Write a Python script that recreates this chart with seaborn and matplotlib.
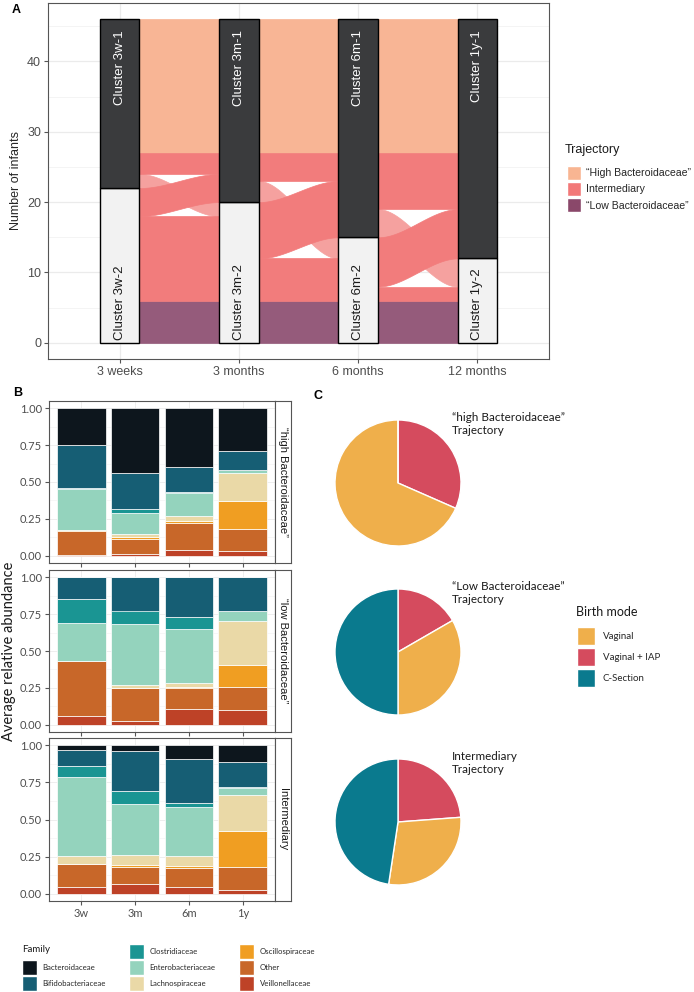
import numpy as np
import pandas as pd
import seaborn as sns
import matplotlib.pyplot as plt
from matplotlib.patches import Patch

W, H = 694, 992

# ---------------- panel A: alluvial data ----------------
time_points = ["3 weeks", "3 months", "6 months", "12 months"]
cluster_top_labels = ["Cluster 3w-1", "Cluster 3m-1", "Cluster 6m-1", "Cluster 1y-1"]
cluster_bottom_labels = ["Cluster 3w-2", "Cluster 3m-2", "Cluster 6m-2", "Cluster 1y-2"]
cluster1_n = [24, 26, 31, 34]   # infants in cluster "-1" at each time point
n_infants = 46
trajectories = ["“High Bacteroidaceae”", "Intermediary", "“Low Bacteroidaceae”"]
trajectory_n = [19, 21, 6]
# intermediary infants between consecutive time points
inter_1to1 = [3, 4, 8]
inter_1to2 = [2, 3, 4]
inter_2to1 = [4, 8, 7]
inter_2to2 = [12, 6, 2]

traj_legend_colors = ["#f8b592", "#f27878", "#8a486a"]
traj_plot_colors = ["#f8b595", "#f27c7c", "#955b7b"]
inter_light = "#f5a19f"

# ---------------- panel B: relative abundance ----------------
ages = ["3w", "3m", "6m", "1y"]
families = ["Bacteroidaceae", "Bifidobacteriaceae", "Clostridiaceae", "Enterobacteriaceae",
            "Lachnospiraceae", "Oscillospiraceae", "Other", "Veillonellaceae"]
family_colors = ["#0d161d", "#165e74", "#1a9593", "#94d3bd",
                 "#ead9a7", "#f09e22", "#c86729", "#be4227"]
strip_labels = ["“high Bacteroidaceae”", "“low Bacteroidaceae”", "Intermediary"]
# rows follow `families`, columns follow `ages`
abund_high = [[0.250, 0.438, 0.398, 0.288],
              [0.290, 0.247, 0.169, 0.128],
              [0.005, 0.025, 0.006, 0.000],
              [0.280, 0.140, 0.157, 0.024],
              [0.000, 0.026, 0.034, 0.187],
              [0.007, 0.012, 0.016, 0.195],
              [0.163, 0.104, 0.180, 0.149],
              [0.005, 0.008, 0.040, 0.029]]
abund_low = [[0.000, 0.000, 0.000, 0.000],
             [0.146, 0.225, 0.270, 0.229],
             [0.162, 0.094, 0.078, 0.000],
             [0.258, 0.411, 0.372, 0.068],
             [0.000, 0.023, 0.025, 0.300],
             [0.000, 0.000, 0.008, 0.145],
             [0.378, 0.225, 0.139, 0.161],
             [0.056, 0.022, 0.108, 0.097]]
abund_inter = [[0.034, 0.040, 0.090, 0.110],
               [0.103, 0.266, 0.299, 0.173],
               [0.079, 0.087, 0.029, 0.005],
               [0.532, 0.346, 0.330, 0.045],
               [0.052, 0.065, 0.065, 0.242],
               [0.000, 0.018, 0.014, 0.245],
               [0.157, 0.111, 0.130, 0.155],
               [0.043, 0.067, 0.043, 0.025]]

# ---------------- panel C: birth mode ----------------
birth_modes = ["Vaginal", "Vaginal + IAP", "C-Section"]
birth_colors = ["#efaf4b", "#d54b5e", "#0a7a8e"]
pie_titles = ["“high Bacteroidaceae”\nTrajectory", "“Low Bacteroidaceae”\nTrajectory",
              "Intermediary\nTrajectory"]
birth_high = [13, 6, 0]
birth_low = [2, 1, 3]
birth_inter = [6, 5, 10]

sns.set_style("white")
plt.rcParams["font.family"] = ["Liberation Sans", "DejaVu Sans"]
MYR = ["Lato", "DejaVu Sans"]
FRAME = "#555555"
TXT = "#4d4d4d"

fig = plt.figure(figsize=(W / 100, H / 100), dpi=100)


def px_axes(l, t, r, b):
    return fig.add_axes([l / W, 1 - b / H, (r - l) / W, (b - t) / H])


def style_frame(ax):
    for s in ax.spines.values():
        s.set_visible(True)
        s.set_color(FRAME)
        s.set_linewidth(0.8)


# ================= A =================
axA = px_axes(48, 3, 549, 359)
xs = np.arange(len(time_points))
half = 1 / 6
low_n = trajectory_n[2]
inter_top = low_n + trajectory_n[1]


def ribbon(ax, x0, x1, lo0, hi0, lo1, hi1, color):
    t = np.linspace(0, 1, 80)
    s = 3 * t ** 2 - 2 * t ** 3
    xx = x0 + (x1 - x0) * t
    ax.fill_between(xx, lo0 + (lo1 - lo0) * s, hi0 + (hi1 - hi0) * s,
                    color=color, ec=color, lw=0.5, zorder=2)


for i in range(len(time_points) - 1):
    x0, x1 = xs[i] + half, xs[i + 1] - half
    a, b, c, d = inter_1to1[i], inter_1to2[i], inter_2to1[i], inter_2to2[i]
    # high and low trajectories stay in their cluster
    ribbon(axA, x0, x1, inter_top, n_infants, inter_top, n_infants, traj_plot_colors[0])
    ribbon(axA, x0, x1, 0, low_n, 0, low_n, traj_plot_colors[2])
    # intermediary: cluster switches
    ribbon(axA, x0, x1, inter_top - a - b, inter_top - a, low_n + d, low_n + d + b, inter_light)
    ribbon(axA, x0, x1, inter_top - a, inter_top, inter_top - a, inter_top, traj_plot_colors[1])
    ribbon(axA, x0, x1, low_n, low_n + d, low_n, low_n + d, traj_plot_colors[1])
    ribbon(axA, x0, x1, low_n + d, low_n + d + c, inter_top - a - c, inter_top - a,
           traj_plot_colors[1])

cluster2_n = [n_infants - n for n in cluster1_n]
axA.bar(xs, cluster2_n, width=1 / 3, color="#f2f2f2", edgecolor="black", lw=1, zorder=3)
axA.bar(xs, cluster1_n, bottom=cluster2_n, width=1 / 3, color="#3a3b3d",
        edgecolor="black", lw=1, zorder=3)
for x, lt, lb in zip(xs, cluster_top_labels, cluster_bottom_labels):
    axA.text(x, n_infants - 1.6, lt, rotation=90, rotation_mode="anchor", ha="right",
             va="center", color="white", fontsize=9.5, zorder=4)
    axA.text(x, 0.4, lb, rotation=90, rotation_mode="anchor", ha="left",
             va="center", color="#1a1a1a", fontsize=9.5, zorder=4)

axA.set_xlim(-0.6, 3.6)
axA.set_ylim(-2.3, 48.3)
axA.set_xticks(xs)
axA.set_xticklabels(time_points)
axA.set_yticks(range(0, 41, 10))
axA.set_yticks(range(5, 46, 10), minor=True)
axA.grid(True, which="major", color="#ebebeb", lw=0.9)
axA.grid(True, which="minor", axis="y", color="#f4f4f4", lw=0.7)
axA.set_axisbelow(True)
axA.tick_params(axis="both", which="major", length=3, color=FRAME, labelsize=9,
                labelcolor=TXT, pad=2, left=True, bottom=True)
axA.tick_params(which="minor", length=0)
axA.set_ylabel("Number of infants", fontsize=9, labelpad=4)
style_frame(axA)

fig.text(565 / W, 1 - 150 / H, "Trajectory", ha="left", va="center", fontsize=9,
         color="#1a1a1a")
fig.legend(handles=[Patch(facecolor=c) for c in traj_legend_colors], labels=trajectories,
           loc="upper left", bbox_to_anchor=(567 / W, 1 - 165.5 / H),
           frameon=False, fontsize=7.6, handlelength=1.37, handleheight=1.75,
           labelspacing=0.15, handletextpad=0.4, borderpad=0, borderaxespad=0)

# ================= B =================
facet_rows = [(401, 563), (570, 732), (738, 901)]
tables = [abund_high, abund_low, abund_inter]
for k, ((t, bt), name, table) in enumerate(zip(facet_rows, strip_labels, tables)):
    ax = px_axes(49, t, 275, bt)
    df = pd.DataFrame([(age, fam, table[fi][ai])
                       for fi, fam in enumerate(families)
                       for ai, age in enumerate(ages)],
                      columns=["age", "family", "value"])
    df["age"] = pd.Categorical(df["age"], categories=ages)
    sns.histplot(data=df, x="age", hue="family", weights="value", multiple="stack",
                 discrete=True, shrink=0.9, hue_order=families, palette=family_colors,
                 edgecolor="white", linewidth=0.5, alpha=1, legend=False, ax=ax)
    ax.set_xlim(-0.6, 3.6)
    ax.set_ylim(-0.05, 1.05)
    ax.set_yticks([0, 0.25, 0.5, 0.75, 1.0])
    ax.set_yticklabels(["0.00", "0.25", "0.50", "0.75", "1.00"], family=MYR)
    ax.set_yticks([0.125, 0.375, 0.625, 0.875], minor=True)
    ax.set_xticks(range(len(ages)))
    ax.grid(True, which="major", color="#ebebeb", lw=0.6)
    ax.grid(True, which="minor", axis="y", color="#f4f4f4", lw=0.5)
    ax.set_axisbelow(True)
    ax.tick_params(axis="both", which="major", length=3, color=FRAME, labelsize=8,
                   labelcolor=TXT, pad=2, left=True, bottom=True)
    ax.tick_params(which="minor", length=0)
    if k < 2:
        ax.set_xticklabels([])
    else:
        ax.set_xticklabels(ages, family=MYR)
    ax.set_xlabel("")
    ax.set_ylabel("")
    style_frame(ax)

    axs = px_axes(275, t, 291, bt)
    axs.set_xticks([])
    axs.set_yticks([])
    style_frame(axs)
    axs.text(0.5, 0.5, name, rotation=270, ha="center", va="center", fontsize=8,
             color="#1a1a1a", transform=axs.transAxes)

fig.text(9 / W, 1 - 651 / H, "Average relative abundance", rotation=90, ha="center",
         va="center", fontsize=10.5, family=MYR, color="#1a1a1a")

# family legend in three columns, the title takes the first slot
fam_handles = [Patch(facecolor=c) for c in family_colors]
columns = [(22, [None, 0, 1]), (128.5, [2, 3, 4]), (239, [5, 6, 7])]
for xpx, idx in columns:
    hs = [Patch(visible=False) if j is None else fam_handles[j] for j in idx]
    ls = ["" if j is None else families[j] for j in idx]
    fig.legend(handles=hs, labels=ls, loc="upper left",
               bbox_to_anchor=(xpx / W, 1 - 944 / H), frameon=False,
               prop={"family": MYR, "size": 5.6}, handlelength=1.93, handleheight=2.58,
               labelspacing=0.13, handletextpad=0.73, borderpad=0, borderaxespad=0)
fig.text(22 / W, 1 - 950 / H, "Family", ha="left", va="center", fontsize=7,
         family=MYR, color="#1a1a1a")

# ================= C =================
pie_centers = [483, 652, 822]
pie_data = [birth_high, birth_low, birth_inter]
R = 63
for cy, vals, title in zip(pie_centers, pie_data, pie_titles):
    axp = px_axes(398 - R, cy - R, 398 + R, cy + R)
    order = [1, 0, 2]
    axp.pie([vals[j] for j in order], colors=[birth_colors[j] for j in order],
            startangle=90, counterclock=False,
            wedgeprops={"edgecolor": "white", "linewidth": 1})
    axp.set_xlim(-1, 1)
    axp.set_ylim(-1, 1)
    axp.set_aspect("equal")
    fig.text(452 / W, 1 - (cy - 71) / H, title, ha="left", va="top", fontsize=8.4,
             family=MYR, color="#1a1a1a", linespacing=1.25)

fig.text(576 / W, 1 - 612 / H, "Birth mode", ha="left", va="center", fontsize=9,
         family=MYR, color="#1a1a1a")
fig.legend(handles=[Patch(facecolor=c) for c in birth_colors], labels=birth_modes,
           loc="upper left", bbox_to_anchor=(576.5 / W, 1 - 627 / H),
           frameon=False, prop={"family": MYR, "size": 7},
           handlelength=1.88, handleheight=2.47, labelspacing=0.31, handletextpad=0.8,
           borderpad=0, borderaxespad=0)

for lab, xpx, ypx in [("A", 12, 10), ("B", 13, 393), ("C", 313, 396)]:
    fig.text(xpx / W, 1 - ypx / H, lab, ha="left", va="center", fontsize=9,
             weight="bold", color="black")

fig.savefig("out.png", dpi=100)
